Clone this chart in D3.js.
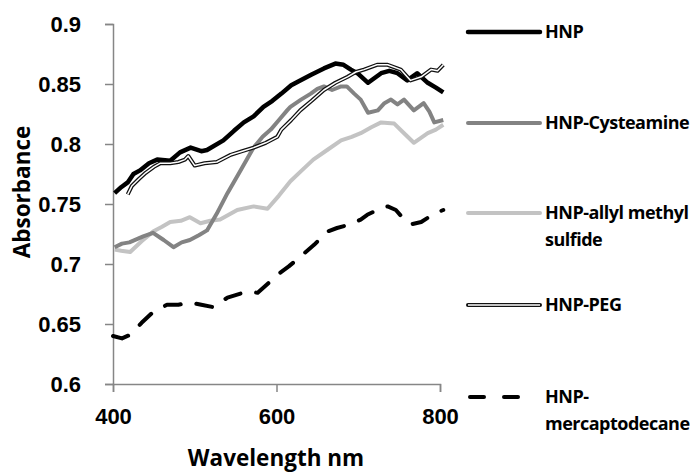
<!DOCTYPE html>
<html>
<head>
<meta charset="utf-8">
<script src="https://cdn.jsdelivr.net/npm/d3@7"></script>
<style>
  body { margin: 0; background: #fff; }
  svg { display: block; font-family: "Open Sans", sans-serif; }
  .tick text { font-size: 22px; font-weight: 600; fill: #000; }
  .legend text { font-size: 18px; font-weight: bold; letter-spacing: -0.5px; }
  .title { font-size: 22.5px; font-weight: bold; }
</style>
</head>
<body>
<svg id="chart" width="697" height="474"></svg>
<script>
// wavelength (nm) / absorbance pairs
const hnp = [[402,0.759],[410,0.764],[418,0.768],[425,0.775],[433,0.778],[444,0.784],[454,0.787],[470,0.786],[482,0.793],[495,0.797],[508,0.794],[515,0.795],[535,0.803],[548,0.811],[560,0.818],[572,0.823],[584,0.831],[595,0.836],[606,0.842],[618,0.849],[629,0.853],[643,0.858],[658,0.863],[672,0.867],[682,0.866],[691,0.862],[699,0.859],[712,0.851],[728,0.859],[738,0.861],[748,0.859],[760,0.853],[772,0.859],[785,0.851],[795,0.847],[804,0.843]]
const peg = [[418,0.758],[423,0.765],[432,0.771],[440,0.776],[450,0.781],[458,0.784],[470,0.784],[480,0.785],[488,0.787],[492,0.790],[500,0.782],[512,0.784],[527,0.785],[544,0.791],[558,0.794],[572,0.797],[587,0.801],[601,0.806],[606,0.812],[618,0.820],[629,0.828],[643,0.836],[658,0.845],[672,0.851],[687,0.856],[697,0.860],[707,0.862],[723,0.866],[736,0.866],[752,0.862],[764,0.853],[777,0.856],[789,0.862],[797,0.861],[804,0.866]]
const cysteamine = [[402,0.714],[411,0.717],[420,0.718],[437,0.723],[449,0.726],[462,0.720],[474,0.714],[484,0.718],[494,0.720],[505,0.724],[515,0.728],[527,0.742],[540,0.759],[556,0.778],[572,0.797],[583,0.806],[593,0.812],[603,0.820],[613,0.828],[617,0.831],[630,0.837],[642,0.842],[650,0.846],[658,0.848],[668,0.845],[679,0.848],[686,0.848],[695,0.842],[703,0.837],[712,0.826],[724,0.828],[732,0.834],[740,0.837],[748,0.833],[756,0.837],[768,0.828],[780,0.834],[787,0.827],[793,0.818],[804,0.820]]
const allyl = [[402,0.712],[410,0.711],[421,0.710],[435,0.719],[449,0.727],[460,0.731],[470,0.735],[483,0.736],[494,0.739],[507,0.734],[519,0.736],[531,0.737],[552,0.745],[572,0.748],[589,0.746],[603,0.757],[617,0.769],[631,0.778],[645,0.787],[662,0.795],[679,0.803],[692,0.806],[703,0.809],[716,0.814],[728,0.818],[744,0.817],[756,0.809],[768,0.801],[785,0.809],[795,0.812],[804,0.816]]
const mercapto = [[400,0.640],[411,0.638],[421,0.641],[435,0.651],[449,0.660],[466,0.666],[480,0.666],[494,0.668],[508,0.666],[523,0.664],[540,0.672],[564,0.677],[577,0.676],[590,0.684],[601,0.691],[615,0.698],[629,0.706],[646,0.716],[662,0.727],[674,0.730],[690,0.733],[703,0.737],[711,0.741],[723,0.745],[736,0.748],[746,0.745],[755,0.738],[764,0.733],[777,0.735],[793,0.742],[804,0.745]]

const xTicks = [400, 600, 800]
const yTicks = [0.6, 0.65, 0.7, 0.75, 0.8, 0.85, 0.9]
const seriesNames = ["HNP", "HNP-Cysteamine", "HNP-allyl methyl sulfide", "HNP-PEG", "HNP-mercaptodecane"]

const svg = d3.select('#chart')
const x = d3.scaleLinear().domain([400, 800]).range([113, 440])
const y = d3.scaleLinear().domain([0.6, 0.9]).range([384, 24])

const axisColor = '#868686'

const gx = svg.append('g')
  .attr('transform', 'translate(0,384)')
  .call(d3.axisBottom(x).tickValues(xTicks).tickSize(8).tickPadding(12).tickFormat(d3.format('d')))
const gy = svg.append('g')
  .attr('transform', 'translate(113,0)')
  .call(d3.axisLeft(y).tickValues(yTicks).tickSize(8).tickPadding(24).tickFormat(d => d3.format('')(+d.toFixed(2))))
for (const g of [gx, gy]) {
  g.select('.domain').attr('stroke', axisColor).attr('stroke-width', 1.5)
  g.selectAll('.tick line').attr('stroke', axisColor).attr('stroke-width', 1.5)
  g.selectAll('.tick text').attr('fill', '#000')
}
gy.selectAll('.tick text').attr('dy', '0.35em')
gx.selectAll('.tick text').attr('dy', '0.9em')

const line = d3.line().x(d => x(d[0])).y(d => y(d[1]))
const plot = svg.append('g').attr('fill', 'none').attr('stroke-linejoin', 'round')

plot.append('path').datum(allyl).attr('d', line).attr('stroke', '#c3c3c3').attr('stroke-width', 4)
plot.append('path').datum(cysteamine).attr('d', line).attr('stroke', '#838383').attr('stroke-width', 4)
plot.append('path').datum(mercapto).attr('d', line).attr('stroke', '#000').attr('stroke-width', 4)
  .attr('stroke-dasharray', '16,16').attr('stroke-linecap', 'round')
plot.append('path').datum(hnp).attr('d', line).attr('stroke', '#000').attr('stroke-width', 4.5)
plot.append('path').datum(peg).attr('d', line).attr('stroke', '#111').attr('stroke-width', 4)
plot.append('path').datum(peg).attr('d', line).attr('stroke', '#fff').attr('stroke-width', 1.5)

// legend
const legend = svg.append('g').attr('class', 'legend')
const legY = [32, 123, 213, 305, 397]
const styles = [
  {stroke: '#000', w: 4.5},
  {stroke: '#838383', w: 4},
  {stroke: '#c3c3c3', w: 4},
  {stroke: '#111', w: 4, inner: true},
  {stroke: '#000', w: 4, dash: '14,20'}
]
const labelLines = [["HNP"], ["HNP-Cysteamine"], ["HNP-allyl methyl", "sulfide"], ["HNP-PEG"], ["HNP-", "mercaptodecane"]]
seriesNames.forEach((name, i) => {
  const s = styles[i]
  const ly = legY[i]
  const l = legend.append('line').attr('x1', 468).attr('x2', 540).attr('y1', ly).attr('y2', ly)
    .attr('stroke', s.stroke).attr('stroke-width', s.w).attr('stroke-linecap', 'round')
  if (s.dash) l.attr('x1', 470).attr('x2', 522).attr('stroke-dasharray', s.dash)
  if (s.inner) legend.append('line').attr('x1', 468).attr('x2', 540).attr('y1', ly).attr('y2', ly)
    .attr('stroke', '#fff').attr('stroke-width', 1.5)
  const t = legend.append('text').attr('x', 545).attr('y', ly)
  labelLines[i].forEach((txt, j) => {
    t.append('tspan').attr('x', 545).attr('dy', j === 0 ? '0.35em' : '1.5em').text(txt)
  })
})

svg.append('text').attr('class', 'title')
  .attr('x', 276).attr('y', 466).attr('text-anchor', 'middle').text('Wavelength nm')
svg.append('text').attr('class', 'title')
  .attr('transform', 'translate(30,192) rotate(-90)').attr('text-anchor', 'middle').text('Absorbance')
</script>
</body>
</html>
